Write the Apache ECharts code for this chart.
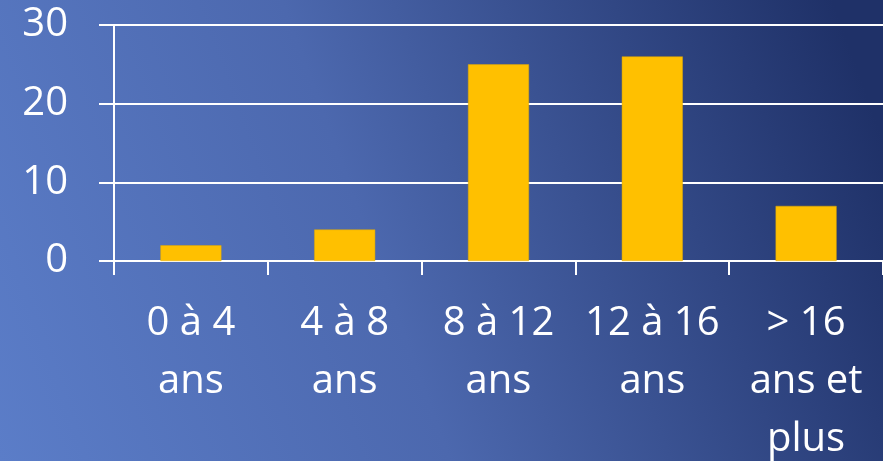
<!DOCTYPE html>
<html>
<head>
<meta charset="utf-8">
<script src="https://cdn.jsdelivr.net/npm/echarts@6/dist/echarts.min.js"></script>
<style>
html,body{margin:0;padding:0;}
#c{width:883px;height:461px;}
</style>
</head>
<body>
<div id="c"></div>
<script>
const categories = ["0 à 4\nans", "4 à 8\nans", "8 à 12\nans", "12 à 16\nans", "> 16\nans et\nplus"];
const values = [2, 4, 25, 26, 7];
const yTicks = { min: 0, max: 30, interval: 10 };

const chart = echarts.init(document.getElementById('c'));
chart.setOption({
  backgroundColor: {
    type: 'linear', x: 0, y: 1, x2: 1, y2: 0.3,
    colorStops: [
      { offset: 0, color: '#5B7DC8' },
      { offset: 0.45, color: '#4C68AE' },
      { offset: 1, color: '#1F3168' }
    ]
  },
  animation: false,
  grid: { left: 114, right: 0, top: 25, bottom: 200, containLabel: false, outerBoundsMode: 'none' },
  xAxis: {
    type: 'category',
    data: categories,
    boundaryGap: true,
    axisLine: { lineStyle: { color: '#FFFFFF', width: 2 } },
    axisTick: { show: true, length: 14, alignWithLabel: false, lineStyle: { color: '#FFFFFF', width: 2 } },
    axisLabel: {
      color: '#FFFFFF', fontFamily: 'Open Sans', fontSize: 40, lineHeight: 58,
      margin: 34, interval: 0
    }
  },
  yAxis: {
    type: 'value',
    min: yTicks.min, max: yTicks.max, interval: yTicks.interval,
    axisLine: { show: true, lineStyle: { color: '#FFFFFF', width: 2 } },
    axisTick: { show: true, length: 15, lineStyle: { color: '#FFFFFF', width: 2 } },
    splitLine: { show: true, lineStyle: { color: '#FFFFFF', width: 2 } },
    axisLabel: { color: '#FFFFFF', fontFamily: 'Open Sans', fontSize: 40, margin: 46 }
  },
  series: [{
    type: 'bar',
    data: values,
    barWidth: 61,
    itemStyle: { color: '#FFC000', borderColor: '#E0A800', borderWidth: 0.5 }
  }]
});
</script>
</body>
</html>
